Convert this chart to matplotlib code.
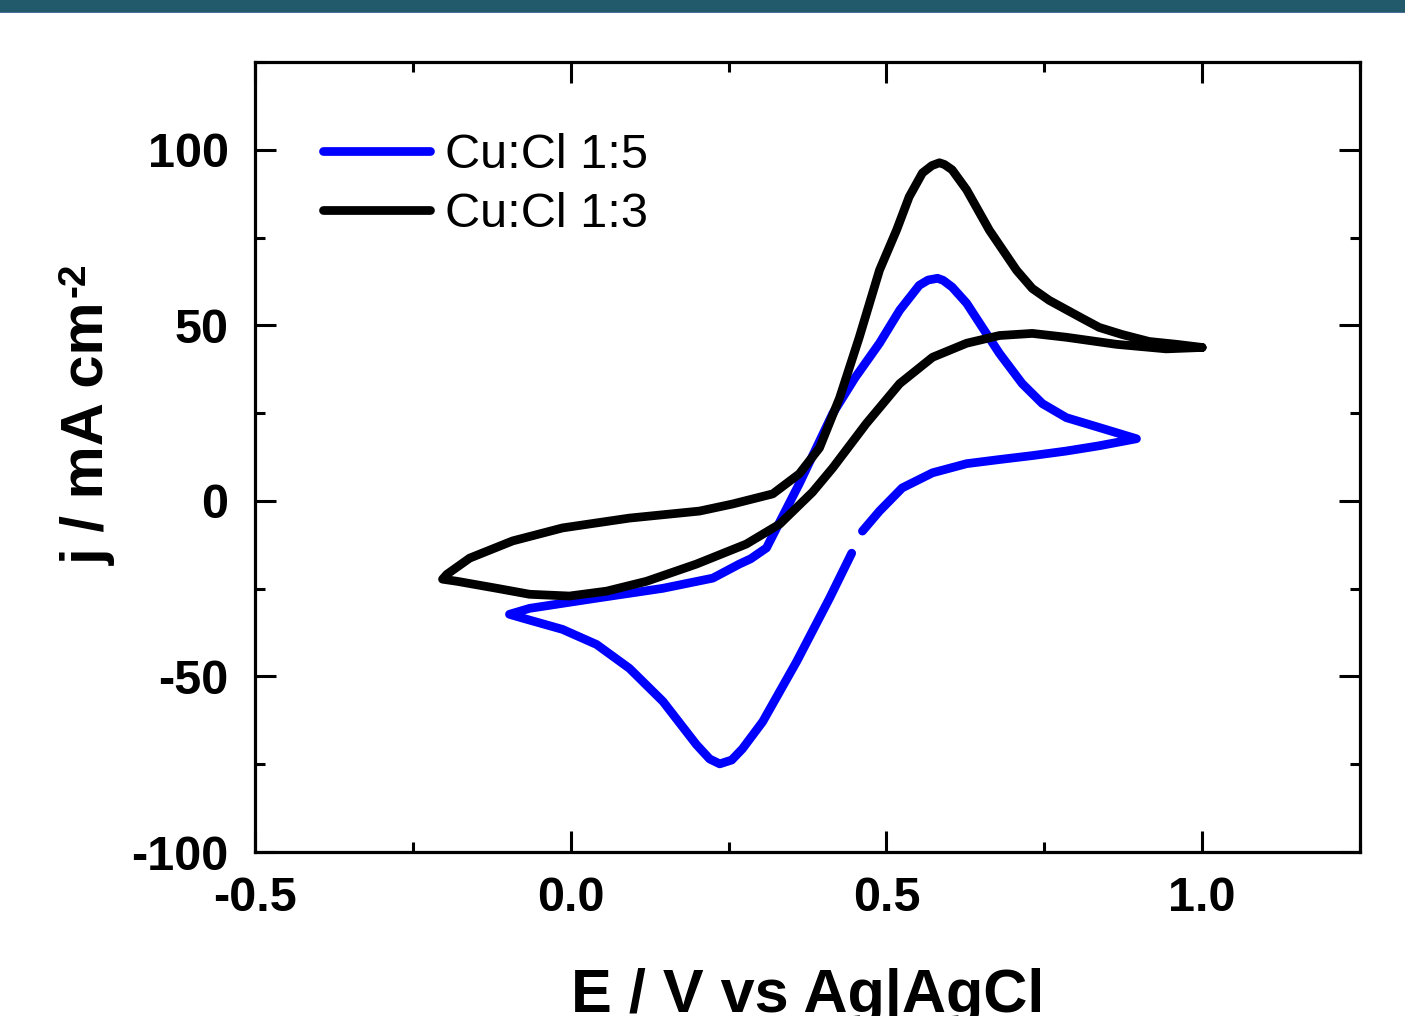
import matplotlib
matplotlib.use("Agg")
import matplotlib.pyplot as plt
from matplotlib.patches import Rectangle
from matplotlib.ticker import MultipleLocator

plt.rcParams['font.family'] = ['Liberation Sans', 'DejaVu Sans']
plt.rcParams['axes.unicode_minus'] = False

# Cu:Cl 1:5 (blue) — traced loop, gap at start/end near 0.45 V
E_15 = [0.462, 0.489, 0.525, 0.573, 0.627, 0.680, 0.731, 0.785, 0.837, 0.896,
        0.837, 0.785, 0.747, 0.715, 0.679, 0.652, 0.627, 0.604, 0.590, 0.581, 0.566,
        0.552, 0.521, 0.489, 0.450, 0.415, 0.362, 0.310, 0.285, 0.267, 0.225,
        0.146, 0.041, -0.065, -0.097,
        -0.076, -0.013, 0.041, 0.093, 0.146, 0.199, 0.220, 0.236, 0.255, 0.272, 0.304,
        0.358, 0.410, 0.445]
j_15 = [-8.6, -2.9, 3.7, 8.0, 10.6, 11.8, 12.9, 14.2, 15.7, 17.7,
        20.9, 23.7, 27.7, 33.4, 42.0, 49.4, 56.3, 60.9, 62.8, 63.4, 62.9,
        61.4, 54.3, 44.9, 35.0, 24.9, 4.9, -13.4, -16.5, -18.0, -22.0,
        -24.9, -27.7, -30.6, -32.3,
        -33.4, -36.6, -40.9, -47.7, -57.1, -69.4, -73.5, -74.9, -73.8, -70.6, -62.9,
        -45.7, -27.7, -14.9]

# Cu:Cl 1:3 (black) — closed loop starting at the 1.0 V vertex
E_13 = [1.000, 0.959, 0.916, 0.873, 0.837, 0.810, 0.758, 0.731, 0.706, 0.663, 0.627,
        0.604, 0.592, 0.584, 0.572,
        0.557, 0.536, 0.516, 0.489, 0.457, 0.426, 0.394, 0.362, 0.320, 0.256,
        0.204, 0.093, -0.013, -0.092, -0.160, -0.196, -0.203,
        -0.180, -0.117, -0.065, -0.002, 0.057, 0.120, 0.199, 0.278, 0.331,
        0.383, 0.415, 0.468, 0.521, 0.573, 0.627, 0.679, 0.731, 0.785, 0.864,
        0.943, 1.000]
j_13 = [43.7, 44.6, 45.4, 47.4, 49.4, 52.0, 57.1, 60.5, 65.7, 77.1, 88.6,
        94.3, 95.8, 96.3, 95.5,
        93.4, 86.6, 77.1, 65.7, 46.6, 29.4, 15.1, 7.7, 2.0, -0.9,
        -2.9, -4.9, -7.7, -11.4, -16.3, -20.9, -22.3,
        -22.9, -24.9, -26.6, -27.1, -25.7, -22.9, -18.0, -12.3, -6.6,
        2.5, 9.4, 22.0, 33.4, 40.9, 44.9, 47.1, 47.7, 46.6, 44.6,
        43.3, 43.7]

labels = ['Cu:Cl 1:5', 'Cu:Cl 1:3']
colors = ['#0000ff', '#000000']

W, H = 1405, 1016
fig = plt.figure(figsize=(W / 100, H / 100), dpi=100)
fig.patches.append(Rectangle((0, 1 - 12 / H), 1, 12 / H, transform=fig.transFigure,
                             facecolor='#225a6b', edgecolor='none', zorder=0))
fig.patches.append(Rectangle((0, 1 - 13 / H), 1, 1.5 / H, transform=fig.transFigure,
                             facecolor='#4a6f9a', edgecolor='none', zorder=0))

ax = fig.add_axes([255 / W, 1 - 852 / H, (1360 - 255) / W, (852 - 62) / H])

lw = 6.3
ax.plot(E_15, j_15, color=colors[0], lw=lw, solid_joinstyle='round',
        solid_capstyle='round', label=labels[0])
ax.plot(E_13, j_13, color=colors[1], lw=lw, solid_joinstyle='round',
        solid_capstyle='round', label=labels[1])

ax.set_xlim(-0.5, 1.25)
ax.set_ylim(-100, 125)
ax.xaxis.set_minor_locator(MultipleLocator(0.25))
ax.yaxis.set_minor_locator(MultipleLocator(25))
ax.set_yticks([-100, -50, 0, 50, 100])
ax.set_xticks([-0.5, 0.0, 0.5, 1.0])
ax.set_xticklabels(['-0.5', '0.0', '0.5', '1.0'])
ax.set_yticklabels(['-100', '-50', '0', '50', '100'])

for s in ax.spines.values():
    s.set_linewidth(2.3)

ax.tick_params(which='both', direction='in', top=True, right=True, width=2.2)
ax.tick_params(which='major', length=15, labelsize=35)
ax.tick_params(which='minor', length=7.5)
ax.tick_params(axis='y', which='major', pad=19)
ax.tick_params(axis='x', which='major', pad=17)
for t in ax.get_xticklabels() + ax.get_yticklabels():
    t.set_fontweight('bold')

ax.set_xlabel('E / V vs Ag|AgCl', fontsize=44, fontweight='bold', labelpad=34)

# y label with a hyphen superscript, built from two texts
ylab = fig.text(104 / W, 1 - 565 / H, 'j / mA cm', rotation=90, rotation_mode='anchor',
                ha='left', va='baseline', fontsize=43, fontweight='bold')
fig.canvas.draw()
bb = ylab.get_window_extent(fig.canvas.get_renderer())
fig.text(84 / W, (bb.y1 + 4) / H, '-2', rotation=90, rotation_mode='anchor',
         ha='left', va='baseline', fontsize=28, fontweight='bold')

leg = ax.legend(loc='upper left', bbox_to_anchor=(0.044, 0.935), frameon=False,
                fontsize=35, handlelength=2.2, handletextpad=0.3, labelspacing=0.3,
                borderaxespad=0)

fig.savefig('out.png', dpi=100)
